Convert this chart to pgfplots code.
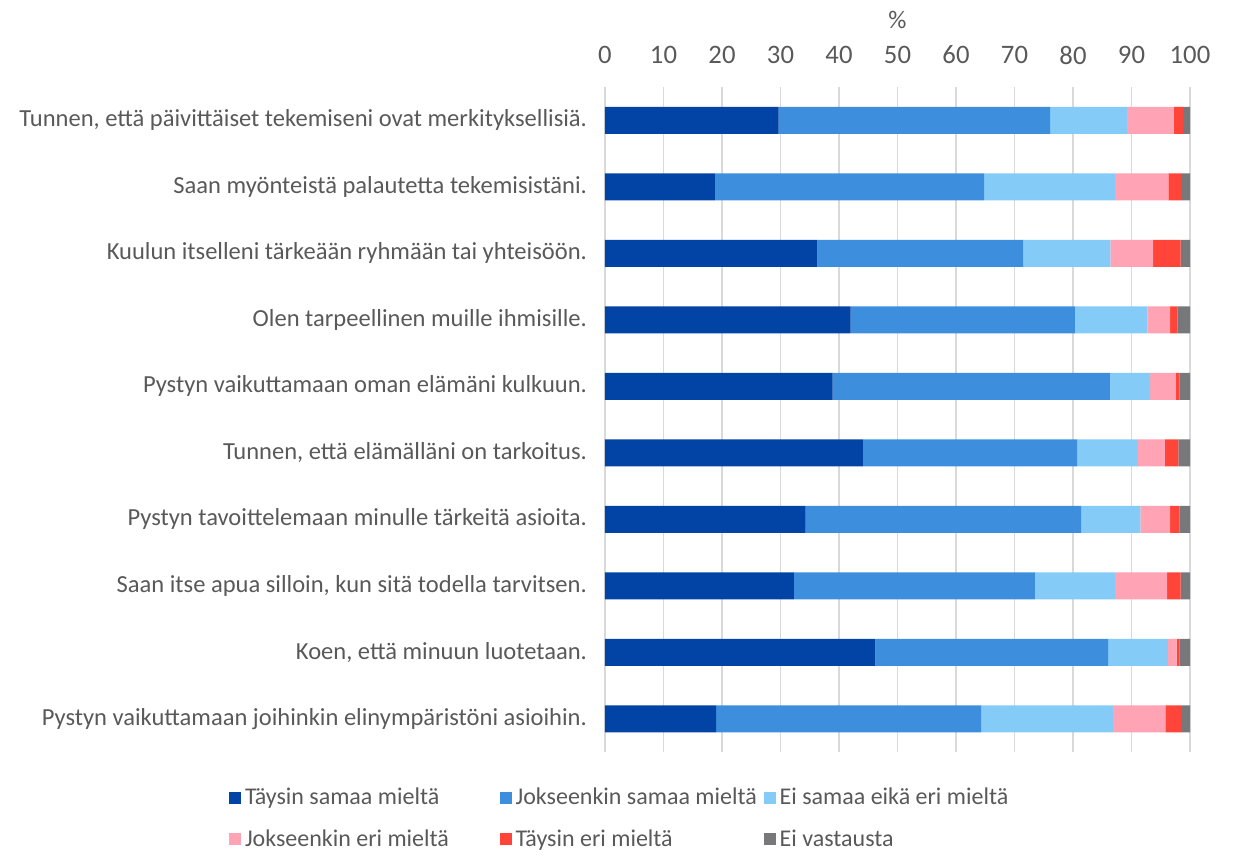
\documentclass[border=0pt]{standalone}
\usepackage{fontspec}
\setmainfont{Carlito}
\usepackage{pgfplots}
\usepackage{pgfplotstable}
\pgfplotsset{compat=1.18}

\definecolor{c1}{HTML}{0243A6}
\definecolor{c2}{HTML}{3D8FDE}
\definecolor{c3}{HTML}{85CBF7}
\definecolor{c4}{HTML}{FFA3B5}
\definecolor{c5}{HTML}{FF4539}
\definecolor{c6}{HTML}{76787B}
\definecolor{txt}{HTML}{595959}
\definecolor{gridc}{HTML}{D9D9D9}

% row, taysin samaa, jokseenkin samaa, ei samaa eika eri, jokseenkin eri, taysin eri, ei vastausta
\pgfplotstableread{
r a b c d e f
0 29.7 46.4 13.1 8.0 1.6 1.2
1 18.8 46.0 22.4 9.1 2.2 1.5
2 36.3 35.2 14.9 7.3 4.7 1.6
3 42.0 38.3 12.4 3.9 1.3 2.1
4 38.9 47.4 6.9 4.4 0.6 1.8
5 44.1 36.6 10.4 4.6 2.3 2.0
6 34.3 47.1 10.1 5.1 1.6 1.8
7 32.3 41.2 13.7 8.9 2.3 1.6
8 46.2 39.8 10.2 1.5 0.5 1.8
9 19.0 45.3 22.5 9.0 2.7 1.5
}\data

\newcommand{\lentA}[1]{\makebox[189pt][l]{#1}}
\newcommand{\lentB}[1]{\makebox[184pt][l]{#1}}

\begin{document}
\begin{tikzpicture}
\path[use as bounding box] (0,0) rectangle (924.75pt,643.5pt);
\begin{axis}[
  at={(453.75pt,79.5pt)}, anchor=south west,
  scale only axis, width=438.75pt, height=498.75pt,
  xbar stacked, bar width=20.25pt,
  xmin=0, xmax=100, ymin=-0.5, ymax=9.5, y dir=reverse,
  xtick={0,10,...,100}, xticklabel pos=upper,
  xlabel={\%},
  xlabel style={at={(axis description cs:0.5,1)}, anchor=center, yshift=50pt,
    font=\fontsize{19}{22}\selectfont, text=txt},
  ytick={0,...,9},
  yticklabels={
    {Tunnen, että päivittäiset tekemiseni ovat merkityksellisiä.},
    {Saan myönteistä palautetta tekemisistäni.},
    {Kuulun itselleni tärkeään ryhmään tai yhteisöön.},
    {Olen tarpeellinen muille ihmisille.},
    {Pystyn vaikuttamaan oman elämäni kulkuun.},
    {Tunnen, että elämälläni on tarkoitus.},
    {Pystyn tavoittelemaan minulle tärkeitä asioita.},
    {Saan itse apua silloin, kun sitä todella tarvitsen.},
    {Koen, että minuun luotetaan.},
    {Pystyn vaikuttamaan joihinkin elinympäristöni asioihin.}},
  yticklabel style={xshift=-10pt, font=\fontsize{18.4}{22}\selectfont, text=txt},
  xticklabel style={anchor=center, yshift=24pt, font=\fontsize{20}{24}\selectfont, text=txt},
  /pgf/number format/assume math mode=true,
  major tick length=0pt,
  axis line style={draw=none},
  xmajorgrids, grid style={gridc, line width=1pt},
  legend columns=3,
  legend style={draw=none, fill=none, at={(axis description cs:-0.65,-0.046)}, anchor=north west,
    font=\fontsize{18}{21}\selectfont, text=txt,
    /tikz/every odd column/.append style={column sep=1pt},
    row sep=13pt},
  legend cell align=left,
  legend image code/.code={\fill[#1] (0pt,-4.5pt) rectangle (9pt,4.5pt);},
]
\addplot[fill=c1, draw=none] table[x=a, y=r] {\data};
\addlegendentry{\lentA{Täysin samaa mieltä}}
\addplot[fill=c2, draw=none] table[x=b, y=r] {\data};
\addlegendentry{\lentB{Jokseenkin samaa mieltä}}
\addplot[fill=c3, draw=none] table[x=c, y=r] {\data};
\addlegendentry{Ei samaa eikä eri mieltä}
\addplot[fill=c4, draw=none] table[x=d, y=r] {\data};
\addlegendentry{\lentA{Jokseenkin eri mieltä}}
\addplot[fill=c5, draw=none] table[x=e, y=r] {\data};
\addlegendentry{\lentB{Täysin eri mieltä}}
\addplot[fill=c6, draw=none] table[x=f, y=r] {\data};
\addlegendentry{Ei vastausta}
\end{axis}
\end{tikzpicture}
\end{document}
